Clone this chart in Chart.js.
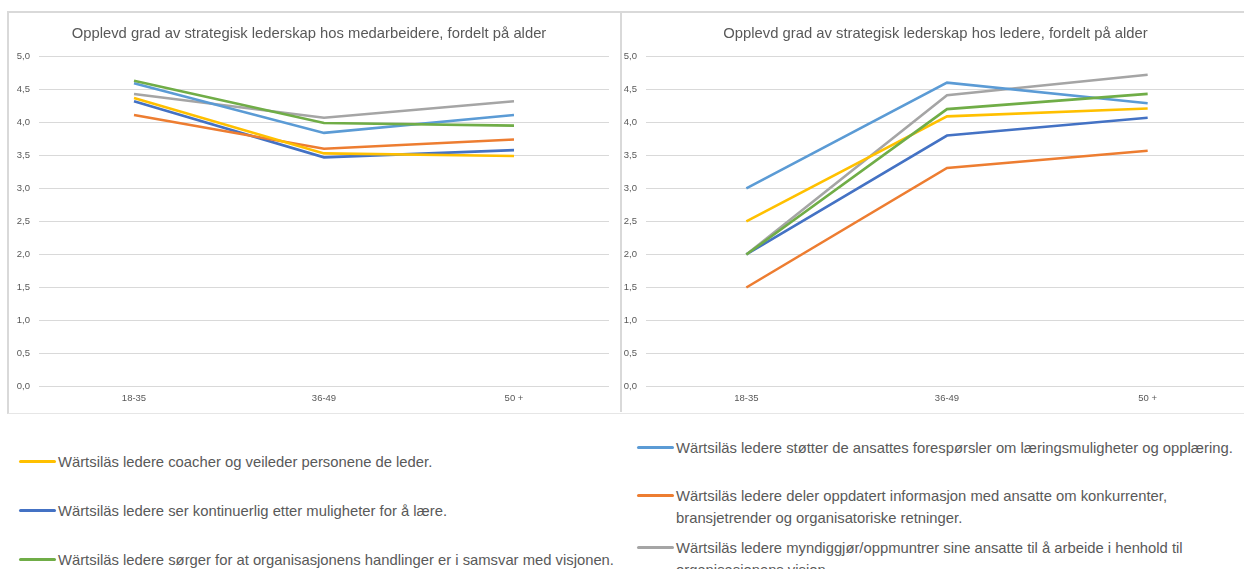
<!DOCTYPE html>
<html>
<head>
<meta charset="utf-8">
<script src="https://cdn.jsdelivr.net/npm/chart.js@4/dist/chart.umd.min.js"></script>
<style>
  html, body { margin: 0; padding: 0; background: #fff; overflow: hidden; }
  body { width: 1244px; height: 569px; position: relative; font-family: 'Liberation Sans', Arial, sans-serif; }
  .frame { position: absolute; top: 11px; left: 7px; width: 1260px; height: 400px; border-top: 2px solid #d9d9d9; border-left: 2px solid #d9d9d9; border-bottom: 1px solid #e6e6e6; }
  .box { position: absolute; top: 13px; height: 399px; }
  #boxLeft { left: 9px; width: 611px; border-right: 2px solid #d9d9d9; }
  #boxRight { left: 623px; width: 637px; }
  .legend-item { position: absolute; color: #595959; font-size: 14.8px; line-height: 22px; }
  .legend-item .swatch { position: absolute; height: 3px; border-radius: 2px; }
</style>
</head>
<body>
<div class="frame"></div>
<div class="box" id="boxLeft"><canvas id="chartEmployees"></canvas></div>
<div class="box" id="boxRight"><canvas id="chartLeaders"></canvas></div>
<div id="legend"></div>

<script>
// --- data ---
const ageGroups = ['18-35', '36-49', '50 +'];
const yTicks = [0, 0.5, 1, 1.5, 2, 2.5, 3, 3.5, 4, 4.5, 5];

const titleEmployees = 'Opplevd grad av strategisk lederskap hos medarbeidere, fordelt på alder';
const titleLeaders = 'Opplevd grad av strategisk lederskap hos ledere, fordelt på alder';

const labelCoach = ['Wärtsiläs ledere coacher og veileder personene de leder.'];
const labelLearn = ['Wärtsiläs ledere ser kontinuerlig etter muligheter for å lære.'];
const labelVision = ['Wärtsiläs ledere sørger for at organisasjonens handlinger er i samsvar med visjonen.'];
const labelSupport = ['Wärtsiläs ledere støtter de ansattes forespørsler om læringsmuligheter og opplæring.'];
const labelShare = ['Wärtsiläs ledere deler oppdatert informasjon med ansatte om konkurrenter,', 'bransjetrender og organisatoriske retninger.'];
const labelEmpower = ['Wärtsiläs ledere myndiggjør/oppmuntrer sine ansatte til å arbeide i henhold til', 'organisasjonens visjon.'];

// medarbeidere
const empCoach   = [4.37, 3.53, 3.49];
const empLearn   = [4.32, 3.47, 3.58];
const empVision  = [4.63, 3.99, 3.95];
const empSupport = [4.59, 3.84, 4.11];
const empShare   = [4.11, 3.60, 3.74];
const empEmpower = [4.43, 4.07, 4.32];

// ledere
const ldrCoach   = [2.5, 4.09, 4.21];
const ldrLearn   = [2.0, 3.80, 4.07];
const ldrVision  = [2.0, 4.20, 4.43];
const ldrSupport = [3.0, 4.60, 4.29];
const ldrShare   = [1.5, 3.31, 3.57];
const ldrEmpower = [2.0, 4.41, 4.72];

// --- styling ---
const colCoach = '#FFC000', colLearn = '#4472C4', colVision = '#70AD47';
const colSupport = '#5B9BD5', colShare = '#ED7D31', colEmpower = '#A5A5A5';
const textGrey = '#595959';
const fontFamily = "'Liberation Sans', Arial, sans-serif";

function makeDatasets(coach, learn, vision, support, share, empower) {
    // first dataset is drawn on top in Chart.js, so green goes first (as in the Excel original)
    const rows = [
        [labelVision, vision, colVision],
        [labelSupport, support, colSupport],
        [labelCoach, coach, colCoach],
        [labelEmpower, empower, colEmpower],
        [labelShare, share, colShare],
        [labelLearn, learn, colLearn]
    ];
    return rows.map(r => ({
        label: r[0].join(' '), data: r[1], borderColor: r[2], backgroundColor: r[2],
        borderWidth: 2.6, pointRadius: 0, pointHoverRadius: 0, tension: 0, fill: false
    }));
}

function createAgeChart(canvasId, title, datasets, axisWidth, padRight) {
    const ctx = document.getElementById(canvasId);
    if (!ctx) { console.error(`Chart Error: Canvas element #${canvasId} not found.`); return; }

    const chartOptions = {
        responsive: true, maintainAspectRatio: false, animation: false,
        layout: { padding: { left: 0, right: padRight, top: 0, bottom: 2 } },
        scales: {
            x: {
                offset: true,
                grid: { display: false, drawTicks: false },
                border: { display: false },
                ticks: { color: textGrey, font: { family: fontFamily, size: 9.5 }, padding: 6, maxRotation: 0 }
            },
            y: {
                min: 0, max: 5,
                afterBuildTicks: function(axis) { axis.ticks = yTicks.map(v => ({ value: v })); },
                afterFit: function(axis) { axis.width = axisWidth; },
                grid: { color: '#d9d9d9', lineWidth: 1, drawTicks: false },
                border: { display: false },
                ticks: { color: textGrey, font: { family: fontFamily, size: 9.5 }, padding: 9,
                         callback: function(v) { return v.toFixed(1).replace('.', ','); } }
            }
        },
        plugins: {
            legend: { display: false },
            tooltip: { enabled: false },
            title: { display: true, text: title, color: textGrey,
                     font: { family: fontFamily, size: 14.8, weight: 'normal' }, padding: { top: 12, bottom: 13.5 } }
        }
    };

    try { new Chart(ctx, { type: 'line', data: { labels: ageGroups, datasets: datasets }, options: chartOptions }); }
    catch (error) { console.error(`Error initializing chart #${canvasId}:`, error); }
}

createAgeChart('chartEmployees', titleEmployees,
    makeDatasets(empCoach, empLearn, empVision, empSupport, empShare, empEmpower), 30, 11);
createAgeChart('chartLeaders', titleLeaders,
    makeDatasets(ldrCoach, ldrLearn, ldrVision, ldrSupport, ldrShare, ldrEmpower), 23, 12);

// --- shared legend below the two charts (two columns like the original) ---
const legendItems = [
    { label: labelCoach,   color: colCoach,   x: 19,  y: 462 },
    { label: labelLearn,   color: colLearn,   x: 19,  y: 511 },
    { label: labelVision,  color: colVision,  x: 19,  y: 560 },
    { label: labelSupport, color: colSupport, x: 637, y: 448 },
    { label: labelShare,   color: colShare,   x: 637, y: 496 },
    { label: labelEmpower, color: colEmpower, x: 637, y: 548 }
];
const legendEl = document.getElementById('legend');
legendItems.forEach(item => {
    const div = document.createElement('div');
    div.className = 'legend-item';
    div.style.left = (item.x + 39) + 'px';
    div.style.top = (item.y - 11) + 'px';
    div.innerHTML = item.label.map(l => `<div style="white-space:nowrap">${l}</div>`).join('');
    const sw = document.createElement('span');
    sw.className = 'swatch';
    sw.style.background = item.color;
    sw.style.left = '-39px';
    sw.style.width = '37px';
    sw.style.top = '9px';
    div.appendChild(sw);
    legendEl.appendChild(div);
});
</script>
</body>
</html>
